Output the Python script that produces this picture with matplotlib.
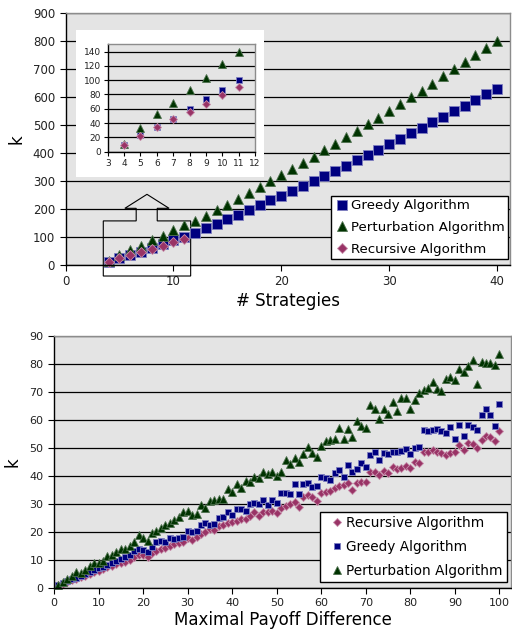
import matplotlib
matplotlib.use("Agg")
import matplotlib.pyplot as plt
from matplotlib.patches import Polygon, Rectangle

# k versus number of strategies
strategies = list(range(4, 41))
greedy_k = [10, 23, 35, 46, 59, 73, 86, 100, 114, 130, 146, 162, 178, 195, 212, 229,
            246, 264, 281, 299, 317, 336, 354, 373, 392, 411, 430, 449, 469, 488,
            508, 528, 548, 568, 589, 609, 629]
perturb_k = [11, 33, 52, 68, 86, 103, 122, 140, 157, 175, 194, 214, 234, 256, 276, 299,
             319, 341, 363, 386, 409, 432, 455, 478, 502, 525, 549, 574, 598, 622,
             647, 673, 698, 723, 748, 774, 800]
recursive_strategies = list(range(4, 12))
recursive_k = [10, 22, 34, 45, 56, 67, 79, 91]

# k versus maximal payoff difference
payoff_diff = list(range(1, 101))
rec_payoff = [0.8, 1.4, 2.0, 2.6, 3.2, 3.7, 4.3, 4.9, 5.6, 6.1,
              6.6, 7.4, 7.9, 8.3, 8.8, 9.2, 10.0, 11.0, 11.7, 11.7,
              10.9, 12.3, 13.2, 13.8, 14.2, 15.0, 15.5, 16.0, 16.5, 17.6,
              17.2, 18.0, 19.3, 20.0, 21.0, 20.5, 22.0, 22.4, 23.0, 23.6,
              24.0, 24.6, 24.6, 25.5, 27.2, 25.5, 27.0, 26.9, 27.3, 26.8,
              28.4, 29.3, 29.8, 30.8, 29.0, 32.5, 33.1, 32.4, 31.1, 33.7,
              34.3, 34.4, 35.5, 36.2, 36.8, 37.3, 34.9, 37.5, 37.7, 37.9,
              41.5, 41.2, 40.3, 41.8, 40.9, 43.3, 42.4, 42.7, 43.6, 42.7,
              45.1, 44.5, 48.4, 48.4, 49.2, 48.6, 48.3, 47.4, 48.3, 48.6,
              51.0, 49.2, 51.6, 51.4, 49.8, 52.8, 54.2, 53.8, 52.6, 56.1]
greedy_payoff = [1.0, 1.6, 2.3, 3.0, 3.6, 4.2, 4.8, 5.5, 6.2, 6.9,
                 7.4, 8.1, 8.9, 9.4, 10.1, 10.8, 11.7, 13.2, 13.7, 13.5,
                 12.9, 14.7, 16.2, 16.8, 16.4, 17.6, 17.4, 17.6, 18.2, 20.4,
                 20.0, 20.3, 22.4, 23.0, 22.4, 22.6, 25.0, 25.4, 27.0, 26.0,
                 28.0, 28.0, 27.3, 29.8, 30.3, 30.0, 31.4, 29.6, 31.3, 30.2,
                 33.7, 34.0, 33.5, 37.1, 33.5, 37.1, 37.3, 36.1, 36.4, 39.6,
                 39.3, 38.5, 40.9, 42.1, 39.6, 43.7, 41.2, 42.5, 44.6, 43.3,
                 47.4, 48.4, 45.6, 48.3, 47.8, 48.6, 48.6, 49.0, 49.5, 47.8,
                 49.8, 50.4, 56.4, 55.9, 56.4, 56.7, 55.9, 55.4, 57.3, 53.3,
                 58.1, 54.1, 58.2, 57.5, 56.3, 61.6, 64.0, 61.6, 57.7, 65.7]
perturb_payoff = [1.0, 2.2, 3.2, 4.2, 5.5, 5.3, 6.3, 7.6, 9.0, 9.0,
                  9.6, 11.5, 11.8, 12.6, 14.0, 13.8, 15.0, 16.2, 18.8, 17.6,
                  16.6, 19.6, 20.2, 21.3, 22.4, 23.2, 24.2, 25.4, 27.2, 27.5,
                  26.0, 26.4, 29.6, 28.6, 31.1, 31.4, 31.6, 31.6, 35.3, 34.2,
                  37.0, 35.6, 38.2, 37.9, 39.7, 39.1, 41.4, 40.5, 41.5, 39.8,
                  41.5, 45.6, 44.2, 46.2, 45.0, 47.9, 50.3, 48.2, 46.6, 50.7,
                  52.3, 52.8, 53.3, 57.0, 53.2, 56.6, 53.8, 59.7, 57.7, 57.2,
                  65.3, 63.9, 60.3, 63.8, 62.0, 66.5, 63.3, 67.9, 67.8, 63.9,
                  67.0, 69.5, 70.7, 71.3, 73.4, 71.2, 70.4, 74.7, 75.3, 74.3,
                  78.3, 77.2, 79.3, 81.3, 72.8, 80.6, 80.5, 80.5, 79.6, 83.6]

NAVY = "#000080"
GREEN = "#003300"
PLUM = "#993366"
BG = "#e4e4e4"
BORDER = "#8c8c8c"
INSET_MAX = 11


def style_axes(ax, labelsize):
    ax.set_facecolor(BG)
    ax.grid(axis="y", color="black", linewidth=0.9)
    ax.set_axisbelow(True)
    for side in ("top", "right"):
        ax.spines[side].set_color(BORDER)
        ax.spines[side].set_linewidth(1.0)
    for side in ("left", "bottom"):
        ax.spines[side].set_color("black")
        ax.spines[side].set_linewidth(1.0)
    ax.tick_params(direction="out", length=4, width=0.8, labelsize=labelsize,
                   labelcolor="#222222")


def scatter(ax, x, y, marker, color, size, label):
    edge = {"s": "#7f7fbf", "^": "#4d704d", "D": "#c78fab"}[marker]
    ax.plot(x, y, linestyle="none", marker=marker, markersize=size,
            markerfacecolor=color, markeredgecolor=edge, markeredgewidth=0.6,
            color=color, label=label, clip_on=False)


def head(x, y):
    pairs = [(a, b) for a, b in zip(x, y) if a <= INSET_MAX]
    return [a for a, _ in pairs], [b for _, b in pairs]


fig = plt.figure(figsize=(5.12, 6.39), dpi=100)

# --- top: k vs # strategies ---
ax1 = fig.add_axes([0.128, 0.586, 0.868, 0.394])
style_axes(ax1, 8.5)
scatter(ax1, strategies, greedy_k, "s", NAVY, 6.5, "Greedy Algorithm")
scatter(ax1, strategies, perturb_k, "^", GREEN, 6.8, "Perturbation Algorithm")
scatter(ax1, recursive_strategies, recursive_k, "D", PLUM, 5.3, "Recursive Algorithm")
ax1.set_xlim(0, 41.2)
ax1.set_ylim(0, 900)
ax1.set_xticks([0, 10, 20, 30, 40])
ax1.set_yticks(range(0, 901, 100))
ax1.set_xlabel("# Strategies", fontsize=12, labelpad=3)
ax1.set_ylabel("k", fontsize=12, labelpad=5)
ax1.legend(loc="lower right", bbox_to_anchor=(0.995, 0.022), borderaxespad=0,
           fontsize=9.6, fancybox=False, framealpha=1, edgecolor="black",
           handlelength=1.1, handletextpad=0.1, labelspacing=0.65,
           borderpad=0.25, markerscale=1.0)

# zoom callout around the small-instance region
callout = [(3.5, -41), (11.6, -41), (11.6, 156), (8.5, 156), (8.5, 201),
           (9.6, 201), (7.55, 251), (5.5, 201), (6.55, 201), (6.55, 156),
           (3.5, 156)]
ax1.add_patch(Polygon(callout, closed=True, fill=False, edgecolor="black",
                      linewidth=0.8, clip_on=False, zorder=1.5))

# white panel holding the inset
fig.patches.append(Rectangle((0.148, 0.7235), 0.368, 0.2295, transform=fig.transFigure,
                             facecolor="white", edgecolor="none", zorder=2))

ax_in = fig.add_axes([0.2104, 0.7626, 0.2877, 0.168])
ax_in.set_zorder(3)
style_axes(ax_in, 6.5)
ax_in.tick_params(length=3, pad=2)
scatter(ax_in, *head(strategies, greedy_k), "s", NAVY, 5.0, None)
scatter(ax_in, *head(strategies, perturb_k), "^", GREEN, 5.2, None)
scatter(ax_in, *head(recursive_strategies, recursive_k), "D", PLUM, 4.2, None)
ax_in.set_xlim(3, 12)
ax_in.set_ylim(0, 150)
ax_in.set_xticks(range(3, 13))
ax_in.set_yticks(range(0, 141, 20))

# --- bottom: k vs maximal payoff difference ---
ax2 = fig.add_axes([0.1055, 0.0803, 0.8925, 0.3939])
style_axes(ax2, 8)
scatter(ax2, payoff_diff, rec_payoff, "D", PLUM, 4.2, "Recursive Algorithm")
scatter(ax2, payoff_diff, greedy_payoff, "s", NAVY, 5.0, "Greedy Algorithm")
scatter(ax2, payoff_diff, perturb_payoff, "^", GREEN, 5.2, "Perturbation Algorithm")
ax2.set_xlim(0, 102.6)
ax2.set_ylim(0, 90)
ax2.set_xticks(range(0, 101, 10))
ax2.set_yticks(range(0, 91, 10))
ax2.set_xlabel("Maximal Payoff Difference", fontsize=12, labelpad=2)
ax2.set_ylabel("k", fontsize=12, labelpad=6)
ax2.legend(loc="lower right", bbox_to_anchor=(0.991, 0.024), borderaxespad=0,
           fontsize=9.8, fancybox=False, framealpha=1, edgecolor="black",
           handlelength=2.0, handletextpad=-0.35, labelspacing=0.72,
           borderpad=0.3, markerscale=1.0)

fig.savefig("out.png", dpi=100)
